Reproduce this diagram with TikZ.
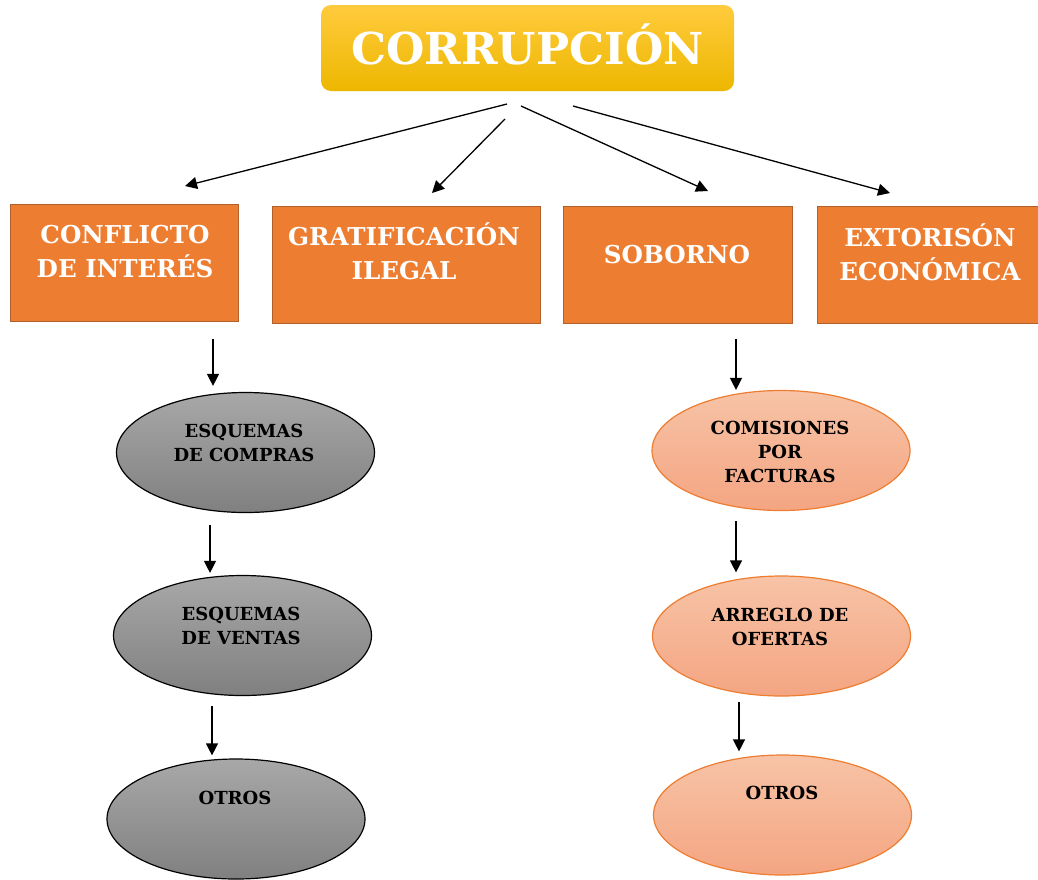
\documentclass[tikz,border=0pt]{standalone}
\usepackage{fontspec}
\setmainfont{DejaVu Serif}
\usetikzlibrary{arrows.meta,calc,shapes.geometric}
\definecolor{ttop}{HTML}{FFCB3D}
\definecolor{tbot}{HTML}{EDB700}
\definecolor{boxfill}{HTML}{ED7D31}
\definecolor{boxline}{HTML}{B0602A}
\definecolor{gtop}{HTML}{A8A8A8}
\definecolor{gbot}{HTML}{808080}
\definecolor{stop}{HTML}{F7C3A6}
\definecolor{sbot}{HTML}{F4A582}
\begin{document}
\begin{tikzpicture}[x=0.5pt,y=-0.5pt,
  titlebox/.style={rectangle,rounded corners=5pt,top color=ttop,bottom color=tbot,
    minimum width=206.5pt,minimum height=43pt,inner sep=0pt,
    text=white,font=\bfseries\fontsize{22}{26}\selectfont,text height=16pt,text depth=0pt},
  catbox/.style={rectangle,fill=boxfill,draw=boxline,line width=0.5pt,minimum height=58.5pt,inner sep=0pt},
  cattxt/.style={text=white,font=\bfseries\fontsize{12.3}{17}\selectfont,align=center,anchor=base,inner sep=0pt},
  grayell/.style={ellipse,draw=black,line width=0.6pt,top color=gtop,bottom color=gbot,
    minimum width=129pt,minimum height=60pt,inner sep=0pt},
  salell/.style={ellipse,draw=boxfill,line width=0.6pt,top color=stop,bottom color=sbot,
    minimum width=129pt,minimum height=60pt,inner sep=0pt},
  elltxt/.style={text=black,font=\bfseries\fontsize{9}{12}\selectfont,align=center,anchor=base,inner sep=0pt},
  arr/.style={line width=0.65pt,-{Triangle[length=6pt,width=6pt]}}]
\useasboundingbox (0,0) rectangle (1038,879);

% title
\node[titlebox] (t) at (527.5,48) {CORRUPCIÓN};

% category boxes
\node[catbox,minimum width=114pt] (b1) at (124,262.5) {};
\node[catbox,minimum width=134pt] (b2) at (406,264.5) {};
\node[catbox,minimum width=114.5pt] (b3) at (677.5,264.5) {};
\node[catbox,minimum width=110.5pt] (b4) at (927.5,264.5) {};
% (anchor=base of a multi-line node is the baseline of its last line)
\node[cattxt] (b1t) at (125,277) {CONFLICTO\\DE INTERÉS};
\node[cattxt] (b2t) at (404,279) {GRATIFICACIÓN\\ILEGAL};
\node[cattxt] (b3t) at (677,263) {SOBORNO};
\node[cattxt] (b4t) at (930,280) {EXTORISÓN\\ECONÓMICA};

% ellipses
\node[grayell] (e1) at (245.5,452.5) {};
\node[grayell] (e2) at (242.5,635.5) {};
\node[grayell] (e3) at (236,819) {};
\node[salell] (e4) at (781,450.5) {};
\node[salell] (e5) at (781.5,636) {};
\node[salell] (e6) at (782.5,815) {};
\node[elltxt] (e1t) at (244,461) {ESQUEMAS\\DE COMPRAS};
\node[elltxt] (e2t) at (241,644) {ESQUEMAS\\DE VENTAS};
\node[elltxt] (e3t) at (235,804) {OTROS};
\node[elltxt] (e4t) at (780,482) {COMISIONES\\POR\\FACTURAS};
\node[elltxt] (e5t) at (780,645) {ARREGLO DE\\OFERTAS};
\node[elltxt] (e6t) at (782,799) {OTROS};

% arrows from title
\coordinate (s1) at (507,104); \coordinate (f1) at (185,186);
\coordinate (s2) at (505,119); \coordinate (f2) at (432,193);
\coordinate (s3) at (521,106); \coordinate (f3) at (708,191);
\coordinate (s4) at (573,106); \coordinate (f4) at (890,193);
\draw[arr] (s1) -- (f1);
\draw[arr] (s2) -- (f2);
\draw[arr] (s3) -- (f3);
\draw[arr] (s4) -- (f4);

% vertical arrows
\draw[arr] ($(b1.south)+(89,17)$) -- ($(e1.north)+(-32.5,-6)$);
\draw[arr] ($(e1.south)+(-35.5,12)$) -- ($(e2.north)+(-32.5,-2)$);
\draw[arr] ($(e2.south)+(-30.5,10)$) -- ($(e3.north)+(-24,-3)$);
\draw[arr] ($(b3.south)+(58.5,15)$) -- ($(e4.north)+(-45,0)$);
\draw[arr] ($(e4.south)+(-45,10)$) -- ($(e5.north)+(-45.5,-3)$);
\draw[arr] ($(e5.south)+(-42.5,5)$) -- ($(e6.north)+(-43.5,-3)$);
\end{tikzpicture}
\end{document}
